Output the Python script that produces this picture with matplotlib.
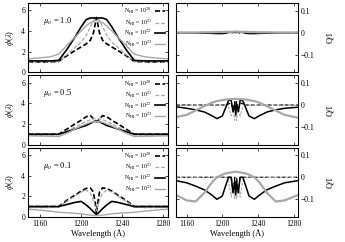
import numpy as np
import matplotlib
matplotlib.use('Agg')
import matplotlib.pyplot as plt

plt.rcParams['font.family'] = ['Liberation Serif', 'DejaVu Serif']
plt.rcParams['mathtext.fontset'] = 'stix'

# wavelength grid for the phi(lambda) profiles
lam = [1148, 1160, 1170, 1178, 1186, 1194, 1200, 1205, 1209, 1212, 1214, 1215,
       1216, 1218, 1221, 1225, 1230, 1236, 1244, 1252, 1262, 1272, 1285]

# mu_o = 1.0
phi10_20 = [1.0, 1.0, 1.0, 1.05, 1.6, 2.1, 2.45, 2.75, 3.1, 3.8, 4.8, 5.3,
            4.8, 3.8, 3.1, 2.75, 2.45, 2.1, 1.6, 1.05, 1.0, 1.0, 1.0]
phi10_21 = [1.0, 1.0, 1.0, 1.05, 1.7, 2.4, 2.9, 3.6, 4.4, 5.0, 5.2, 5.2,
            5.2, 5.0, 4.4, 3.6, 2.9, 2.4, 1.7, 1.05, 1.0, 1.0, 1.0]
phi10_22 = [1.1, 1.1, 1.1, 1.15, 2.2, 3.4, 4.4, 5.1, 5.25, 5.25, 5.25, 5.25,
            5.25, 5.25, 5.25, 5.1, 4.4, 3.4, 2.2, 1.15, 1.1, 1.1, 1.1]
phi10_23 = [1.3, 1.4, 1.5, 1.75, 2.6, 3.4, 4.0, 4.5, 4.8, 4.9, 5.0, 5.0,
            5.0, 4.9, 4.8, 4.5, 4.0, 3.4, 2.6, 1.75, 1.5, 1.4, 1.3]

# mu_o = 0.5
phi05_20 = [1.0, 1.0, 1.0, 1.0, 1.5, 2.0, 2.35, 2.7, 2.8, 2.5, 2.25, 2.2,
            2.25, 2.5, 2.8, 2.7, 2.35, 2.0, 1.5, 1.0, 1.0, 1.0, 1.0]
phi05_21 = [0.9, 0.9, 0.9, 0.95, 1.3, 1.7, 2.0, 2.25, 2.4, 2.5, 2.5, 2.5,
            2.5, 2.5, 2.4, 2.25, 2.0, 1.7, 1.3, 0.95, 0.9, 0.9, 0.9]
phi05_22 = [1.0, 1.0, 1.0, 1.0, 1.25, 1.5, 1.7, 1.85, 2.05, 2.2, 2.3, 2.3,
            2.3, 2.2, 2.05, 1.85, 1.7, 1.5, 1.25, 1.0, 1.0, 1.0, 1.0]
phi05_23 = [0.85, 0.82, 0.8, 0.78, 1.1, 1.5, 1.8, 2.0, 2.15, 2.2, 2.25, 2.25,
            2.25, 2.2, 2.15, 2.0, 1.8, 1.5, 1.1, 0.78, 0.8, 0.82, 0.85]

# mu_o = 0.1
phi01_20 = [1.0, 1.0, 1.0, 1.0, 1.6, 2.1, 2.5, 2.75, 2.8, 2.4, 1.2, 0.3,
            1.2, 2.4, 2.8, 2.75, 2.5, 2.1, 1.6, 1.0, 1.0, 1.0, 1.0]
phi01_21 = [0.9, 0.9, 0.9, 0.95, 1.5, 2.0, 2.4, 2.6, 2.3, 1.6, 0.9, 0.6,
            0.9, 1.6, 2.3, 2.6, 2.4, 2.0, 1.5, 0.95, 0.9, 0.9, 0.9]
phi01_22 = [1.0, 1.0, 1.0, 1.0, 1.2, 1.4, 1.5, 1.15, 0.8, 0.5, 0.3, 0.25,
            0.3, 0.5, 0.8, 1.15, 1.5, 1.4, 1.2, 1.0, 1.0, 1.0, 1.0]
phi01_23 = [0.75, 0.65, 0.55, 0.45, 0.4, 0.35, 0.3, 0.22, 0.18, 0.15, 0.13, 0.12,
            0.13, 0.15, 0.18, 0.22, 0.3, 0.35, 0.4, 0.45, 0.55, 0.65, 0.75]

# wavelength grid for Q/I
lam_q = [1148, 1160, 1170, 1180, 1188, 1194, 1200, 1204, 1207, 1210, 1212, 1214, 1215,
         1216, 1218, 1220, 1223, 1226, 1230, 1236, 1242, 1250, 1260, 1270, 1285]

q10_20 = [0, 0, 0, 0, -0.002, -0.003, -0.003, -0.002, 0.003, -0.004, 0.004, -0.005, 0.006,
          -0.005, 0.004, -0.004, 0.003, -0.002, -0.003, -0.003, -0.002, 0, 0, 0, 0]
q10_21 = [0, 0, 0, 0, 0, 0.001, 0.002, 0.002, -0.003, 0.004, -0.003, 0.004, -0.004,
          0.004, -0.003, 0.004, -0.003, 0.002, 0.002, 0.001, 0, 0, 0, 0, 0]
q10_22 = [0, 0, -0.001, -0.002, -0.003, -0.004, -0.004, -0.002, 0.002, 0.004, 0.004, 0.003, 0.003,
          0.003, 0.004, 0.004, 0.002, -0.002, -0.004, -0.004, -0.003, -0.002, -0.001, 0, 0]
q10_23 = [0.001, 0.001, 0.001, 0.002, 0.002, 0.003, 0.003, 0.004, 0.004, 0.004, 0.005, 0.005, 0.005,
          0.005, 0.005, 0.004, 0.004, 0.004, 0.003, 0.003, 0.002, 0.002, 0.001, 0.001, 0.001]

q05_20 = [0, 0, 0, 0, 0, 0, 0, 0, 0.005, 0.01, -0.03, 0.015, -0.04,
          0.015, -0.03, 0.01, 0.005, 0, 0, 0, 0, 0, 0, 0, 0]
q05_21 = [0, 0, 0, 0, 0, 0, 0, 0, -0.01, -0.05, -0.02, -0.07, 0.0,
          -0.07, -0.02, -0.05, -0.01, 0, 0, 0, 0, 0, 0, 0, 0]
q05_22 = [-0.008, -0.015, -0.022, -0.032, -0.048, -0.062, -0.05, -0.01, 0.02, 0.022, -0.03, 0.005, -0.045,
          0.005, -0.03, 0.022, 0.02, -0.01, -0.05, -0.062, -0.048, -0.032, -0.022, -0.015, -0.01]
q05_23 = [-0.055, -0.045, -0.025, -0.005, 0.01, 0.018, 0.022, 0.025, 0.026, 0.027, 0.027, 0.028, 0.028,
          0.028, 0.027, 0.027, 0.026, 0.025, 0.022, 0.018, 0.01, -0.005, -0.025, -0.045, -0.058]

q01_20 = [0, 0, 0, 0, 0, 0, 0, 0, 0, 0.0, -0.06, 0.0, -0.08,
          0.0, -0.06, 0.0, 0, 0, 0, 0, 0, 0, 0, 0, 0]
q01_21 = [0, 0, 0, 0, 0, 0, 0, 0, -0.02, -0.09, -0.03, -0.1, 0.0,
          -0.1, -0.03, -0.09, -0.02, 0, 0, 0, 0, 0, 0, 0, 0]
q01_22 = [-0.015, -0.025, -0.04, -0.057, -0.08, -0.1, -0.085, -0.035, 0.0, 0.0, -0.07, -0.02, -0.08,
          -0.02, -0.07, 0.0, 0.0, -0.035, -0.085, -0.1, -0.08, -0.057, -0.04, -0.025, -0.015]
q01_23 = [-0.08, -0.105, -0.11, -0.07, -0.025, 0.0, 0.012, 0.018, 0.02, 0.022, 0.024, 0.025, 0.025,
          0.025, 0.024, 0.022, 0.02, 0.018, 0.012, 0.0, -0.025, -0.07, -0.11, -0.105, -0.08]

mus = ['1.0', '0.5', '0.1']
phi_sets = [[phi10_20, phi10_21, phi10_22, phi10_23],
            [phi05_20, phi05_21, phi05_22, phi05_23],
            [phi01_20, phi01_21, phi01_22, phi01_23]]
q_sets = [[q10_20, q10_21, q10_22, q10_23],
          [q05_20, q05_21, q05_22, q05_23],
          [q01_20, q01_21, q01_22, q01_23]]
nh_labels = [r'N$_{\rm HI}$ = 10$^{20}$', r'N$_{\rm HI}$ = 10$^{21}$',
             r'N$_{\rm HI}$ = 10$^{22}$', r'N$_{\rm HI}$ = 10$^{23}$']

gray = '#a8a8a8'
styles = [dict(color='black', ls=(0, (3, 1.5)), lw=1.2),
          dict(color=gray, ls=(0, (3, 1.5)), lw=0.9),
          dict(color='black', ls='-', lw=1.2),
          dict(color=gray, ls='-', lw=1.0)]
q_lw = [0.9, 0.7, 1.1, 1.6]

W, H = 345, 242
fig = plt.figure(figsize=(W / 100, H / 100), dpi=100)

row_h = 69.3
gap = 3.0
top0 = 3.0

for i in range(3):
    top = top0 + i * (row_h + gap)
    y0 = 1 - (top + row_h) / H
    axl = fig.add_axes([28 / W, y0, 140 / W, row_h / H])
    axr = fig.add_axes([176 / W, y0, 122 / W, row_h / H])

    for k in range(4):
        axl.plot(lam, phi_sets[i][k], label=nh_labels[k], **styles[k])
        st = dict(styles[k])
        st['lw'] = q_lw[k]
        axr.plot(lam_q, q_sets[i][k], **st)

    axl.set_xlim(1148, 1285)
    axl.set_ylim(0, 6.7)
    axl.set_yticks([0, 2, 4, 6])
    axr.set_xlim(1148, 1285)
    axr.set_ylim(-0.18, 0.135)
    axr.set_yticks([-0.1, 0, 0.1])
    axr.set_yticklabels(['\u22120.1', '0', '0.1'])
    axr.yaxis.tick_right()

    for ax in (axl, axr):
        ax.set_xticks([1160, 1200, 1240, 1280])
        ax.tick_params(direction='in', length=2.5, width=0.5, labelsize=5.5,
                       top=True, bottom=True, left=True, right=True, pad=2)
        for s in ax.spines.values():
            s.set_linewidth(0.8)
        if i < 2:
            ax.tick_params(labelbottom=False)
        else:
            ax.set_xlabel('Wavelength (Å)', fontsize=6, labelpad=1)
    axr.tick_params(labelleft=False, labelright=True)

    axl.set_ylabel(r'$\phi$($\lambda$)', fontsize=6, labelpad=4)
    axr.yaxis.set_label_position('right')
    axr.set_ylabel('Q/I', fontsize=6, labelpad=8, rotation=90)

    axl.text(0.11, 0.74, r'$\mu_o$ = ' + mus[i], transform=axl.transAxes,
             fontsize=6, ha='left', va='center')
    axl.legend(loc='upper right', frameon=False, markerfirst=False, fontsize=4.2,
               handlelength=1.8, labelspacing=0.05, borderaxespad=0.3,
               handletextpad=0.5, borderpad=0.2)

fig.savefig('out.png', dpi=100)
